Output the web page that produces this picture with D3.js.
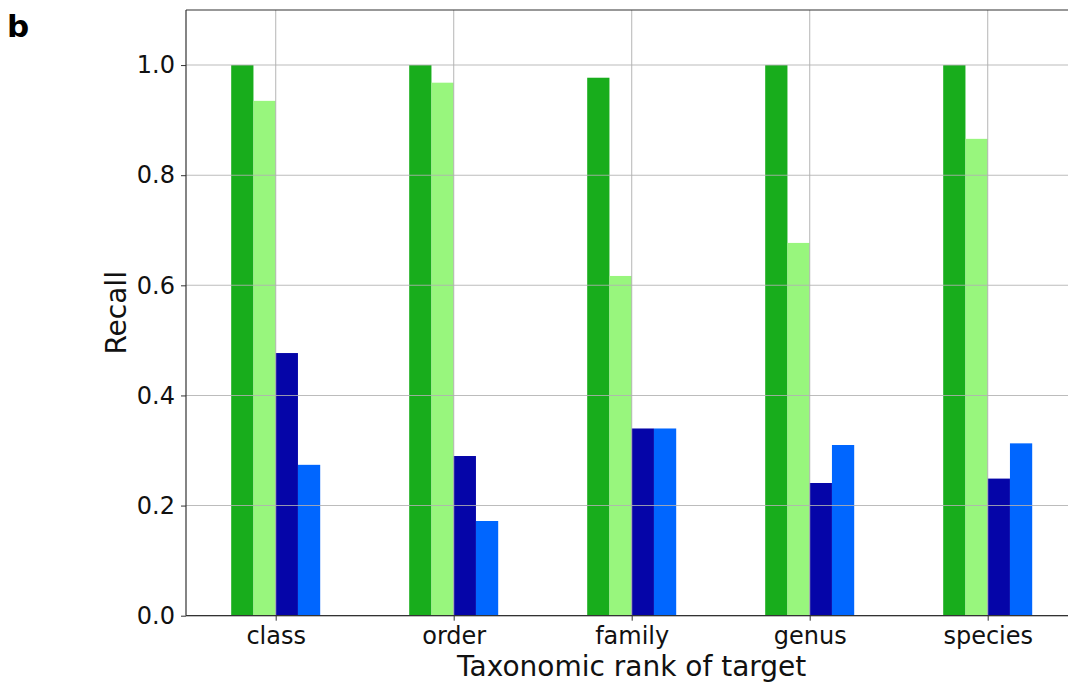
<!DOCTYPE html>
<html><head><meta charset="utf-8">
<script src="https://cdn.jsdelivr.net/npm/d3@7"></script>
<style>body{margin:0;background:#fff}svg{display:block}text{font-family:"DejaVu Sans",sans-serif}</style>
</head><body><svg id="c" width="1068" height="682"></svg>
<script>
const categories = ["class","order","family","genus","species"];
const seriesNames = ["s1","s2","s3","s4"];
const s1 = [1.0, 1.0, 0.977, 1.0, 1.0];
const s2 = [0.935, 0.968, 0.617, 0.677, 0.866];
const s3 = [0.477, 0.290, 0.340, 0.241, 0.249];
const s4 = [0.274, 0.172, 0.340, 0.310, 0.313];
const seriesValues = [s1, s2, s3, s4];
const colors = ["#18ad1c", "#98f67d", "#0505a8", "#0066ff"];
const yTicks = [0.0, 0.2, 0.4, 0.6, 0.8, 1.0];

const svg = d3.select("#c");
const L = 186, T = 10, B = 615.7;
const unit = 178;
const cx0 = 275.7;
const x = d3.scaleLinear().domain([-0.5, 4.5]).range([cx0 - 0.5*unit, cx0 + 4.5*unit]);
const y = d3.scaleLinear().domain([0, 1.1]).range([B, T]);
const bw = 0.125;

const g = svg.append("g");
seriesValues.forEach((vals, si) => {
  g.selectAll(null).data(vals).enter().append("rect")
    .attr("x", (d, i) => x(i + (si - 2) * bw))
    .attr("width", x(bw) - x(0))
    .attr("y", d => y(d))
    .attr("height", d => y(0) - y(d))
    .attr("fill", colors[si]);
});
const grid = svg.append("g").attr("stroke", "#b0b0b0").attr("stroke-opacity", 0.85).attr("stroke-width", 1.1);
yTicks.forEach(t => grid.append("line").attr("x1", L).attr("x2", 1068).attr("y1", y(t)).attr("y2", y(t)));
categories.forEach((c, i) => grid.append("line").attr("x1", x(i)).attr("x2", x(i)).attr("y1", T).attr("y2", B));

const xAxis = d3.axisBottom(x).tickValues(d3.range(categories.length)).tickFormat(i => categories[i]).tickSize(5).tickPadding(6);
const xa = svg.append("g").attr("transform", `translate(0,${B})`).call(xAxis);
xa.select(".domain").attr("stroke", "#333").attr("stroke-width", 1.2).attr("d", `M${L},0H1068`);
xa.selectAll(".tick line").attr("stroke", "#333");
xa.selectAll("text").attr("font-size", 24).attr("fill", "#111").attr("font-family", "DejaVu Sans");

const yAxis = d3.axisLeft(y).tickValues(yTicks).tickFormat(d3.format(".1f")).tickSize(5).tickPadding(6);
const ya = svg.append("g").attr("transform", `translate(${L},0)`).call(yAxis);
ya.select(".domain").attr("stroke", "#333").attr("stroke-width", 1.2).attr("d", `M0,${T}V${B}`);
ya.selectAll(".tick line").attr("stroke", "#333");
ya.selectAll("text").attr("font-size", 24).attr("fill", "#111").attr("font-family", "DejaVu Sans");

svg.append("line").attr("x1", L).attr("x2", 1068).attr("y1", T).attr("y2", T).attr("stroke", "#333").attr("stroke-width", 1.2);

svg.append("text").attr("x", x(2)).attr("y", 676).attr("text-anchor", "middle").attr("font-size", 28).attr("fill", "#111").text("Taxonomic rank of target");
svg.append("text").attr("transform", `translate(126,${(T+B)/2}) rotate(-90)`).attr("text-anchor", "middle").attr("font-size", 28).attr("fill", "#111").text("Recall");
svg.append("text").attr("x", 7).attr("y", 37).attr("font-size", 31).attr("font-weight", "bold").attr("fill", "#000").text("b");
</script></body></html>
